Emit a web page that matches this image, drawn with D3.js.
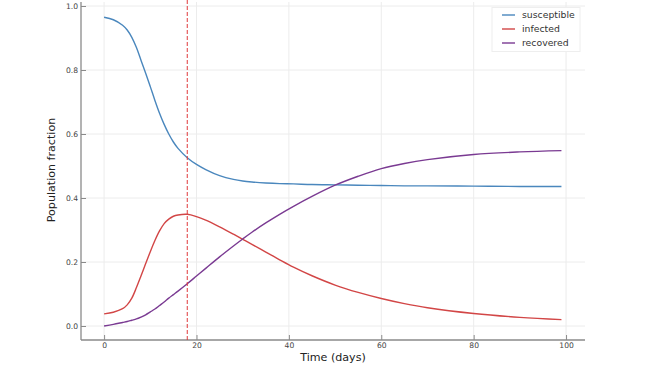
<!DOCTYPE html>
<html>
<head>
<meta charset="utf-8">
<script src="https://cdn.jsdelivr.net/npm/d3@7"></script>
<style>
  html, body { margin: 0; padding: 0; background: #fff; }
  svg { display: block; font-family: "DejaVu Sans", sans-serif; }
</style>
</head>
<body>
<svg id="chart" width="650" height="367"></svg>
<script>
// Data
const days        = [0, 2, 4, 5, 6, 7, 8, 9, 10, 11, 12, 13, 14, 15, 16, 18, 20, 22, 25, 28, 30, 32, 35, 38, 41, 45, 50, 55, 60, 65, 70, 80, 90, 99];
const susceptible = [0.965, 0.957, 0.940, 0.925, 0.902, 0.870, 0.830, 0.790, 0.748, 0.705, 0.665, 0.630, 0.600, 0.575, 0.555, 0.526, 0.505, 0.489, 0.470, 0.458, 0.453, 0.450, 0.447, 0.445, 0.444, 0.442, 0.441, 0.440, 0.439, 0.438, 0.438, 0.437, 0.436, 0.436];
const infected    = [0.038, 0.043, 0.054, 0.066, 0.087, 0.120, 0.157, 0.195, 0.232, 0.267, 0.297, 0.320, 0.334, 0.343, 0.347, 0.349, 0.342, 0.331, 0.310, 0.287, 0.271, 0.255, 0.231, 0.207, 0.184, 0.157, 0.128, 0.105, 0.086, 0.070, 0.057, 0.039, 0.027, 0.020];
const recovered   = [0.000, 0.005, 0.011, 0.014, 0.018, 0.022, 0.028, 0.035, 0.044, 0.053, 0.064, 0.075, 0.087, 0.098, 0.109, 0.132, 0.156, 0.180, 0.216, 0.250, 0.272, 0.293, 0.322, 0.349, 0.374, 0.405, 0.440, 0.468, 0.492, 0.508, 0.520, 0.536, 0.544, 0.548];
const seriesNames = ["susceptible", "infected", "recovered"];
const seriesColors = ["#4a87bd", "#d24646", "#7a3a92"];
const xTicks = [0, 20, 40, 60, 80, 100];
const yTicks = [0.0, 0.2, 0.4, 0.6, 0.8, 1.0];
const peakDay = 18;

const svg = d3.select("#chart");
const x = d3.scaleLinear().domain([-5, 104.1]).range([81, 585]);
const y = d3.scaleLinear().domain([-0.04375, 1.0125]).range([340, 2]);

const axisColor = "#8a8a8a";
const gridColor = "#ececec";

// grid
svg.append("g").selectAll("line").data(yTicks).join("line")
  .attr("x1", x.range()[0]).attr("x2", x.range()[1])
  .attr("y1", d => y(d)).attr("y2", d => y(d))
  .attr("stroke", gridColor).attr("stroke-width", 1);
svg.append("g").selectAll("line").data(xTicks).join("line")
  .attr("x1", d => x(d)).attr("x2", d => x(d))
  .attr("y1", y.range()[0]).attr("y2", y.range()[1])
  .attr("stroke", gridColor).attr("stroke-width", 1);

// axes
const xAxis = d3.axisBottom(x).tickValues(xTicks).tickFormat(d3.format("d")).tickSizeInner(-5).tickSizeOuter(0).tickPadding(3);
const yAxis = d3.axisLeft(y).tickValues(yTicks).tickFormat(d3.format(".1f")).tickSizeInner(-5).tickSizeOuter(0).tickPadding(3);

const gx = svg.append("g").attr("transform", `translate(0,${y.range()[0]})`).call(xAxis);
const gy = svg.append("g").attr("transform", `translate(${x.range()[0]},0)`).call(yAxis);
[gx, gy].forEach(g => {
  g.select(".domain").attr("stroke", axisColor).attr("stroke-width", 1.3);
  g.selectAll(".tick line").attr("stroke", axisColor).attr("stroke-width", 1);
  g.selectAll(".tick text").attr("fill", "#444").style("font-size", "7.6px").style("font-family", "DejaVu Sans, sans-serif");
});
gx.select(".domain").attr("d", `M${x.range()[0]},0H${x.range()[1]}`);
gy.select(".domain").attr("d", `M0,${y.range()[0]}V${y.range()[1]}`);

// lines
const allSeries = [susceptible, infected, recovered];
const line = d3.line().x((d, i) => x(days[i])).y(d => y(d)).curve(d3.curveCatmullRom.alpha(0.5));
allSeries.forEach((vals, k) => {
  svg.append("path").datum(vals)
    .attr("fill", "none").attr("stroke", seriesColors[k]).attr("stroke-width", 1.4)
    .attr("d", line);
});

// vertical dashed peak line
svg.append("line")
  .attr("x1", x(peakDay)).attr("x2", x(peakDay))
  .attr("y1", y.range()[1] - 2).attr("y2", y.range()[0])
  .attr("stroke", "#e0393b").attr("stroke-width", 1).attr("stroke-dasharray", "4,2");

// axis labels
svg.append("text").attr("x", (x.range()[0] + x.range()[1]) / 2).attr("y", 361)
  .attr("text-anchor", "middle").style("font-size", "11.1px").attr("fill", "#222").text("Time (days)");
svg.append("text").attr("transform", `translate(55,${(y.range()[0] + y.range()[1]) / 2 - 1}) rotate(-90)`)
  .attr("text-anchor", "middle").style("font-size", "11.1px").attr("fill", "#222").text("Population fraction");

// legend
const lg = svg.append("g");
lg.append("rect").attr("x", 492).attr("y", 7.5).attr("width", 88).attr("height", 44)
  .attr("fill", "#fff").attr("stroke", "#eeeeee").attr("stroke-width", 1);
seriesNames.forEach((name, k) => {
  const yy = 15 + k * 14;
  lg.append("line").attr("x1", 502).attr("x2", 515).attr("y1", yy).attr("y2", yy)
    .attr("stroke", seriesColors[k]).attr("stroke-width", 1.4);
  lg.append("text").attr("x", 522).attr("y", yy).attr("dy", "0.35em")
    .style("font-size", "9.3px").attr("fill", "#333").text(name);
});
</script>
</body>
</html>
